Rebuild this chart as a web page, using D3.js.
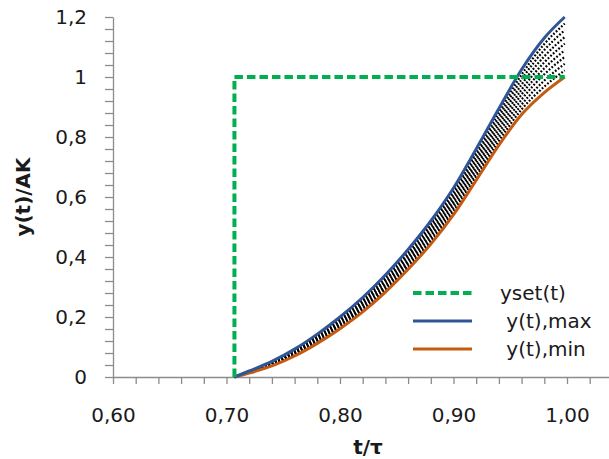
<!DOCTYPE html>
<html>
<head>
<meta charset="utf-8">
<script src="https://cdn.jsdelivr.net/npm/d3@7"></script>
<style>
  html, body { margin: 0; padding: 0; background: #fff; }
  svg { display: block; font-family: "DejaVu Sans", Verdana, sans-serif; }
</style>
</head>
<body>
<svg id="chart" width="609" height="459"></svg>
<script>
// Normalised time t/τ at which every response is sampled
const tGrid = [0.707, 0.72, 0.74, 0.76, 0.78, 0.80, 0.82, 0.84, 0.86, 0.88, 0.90, 0.92, 0.94, 0.96, 0.98, 0.998];

// Upper and lower bounding responses y(t)/AK
const yMax = [0, 0.020, 0.052, 0.093, 0.143, 0.200, 0.265, 0.340, 0.425, 0.520, 0.630, 0.760, 0.895, 1.025, 1.130, 1.200];
const yMin = [0, 0.013, 0.037, 0.070, 0.112, 0.161, 0.217, 0.283, 0.359, 0.443, 0.541, 0.656, 0.773, 0.875, 0.948, 1.000];

// Intermediate responses lying between the bounds (dotted)
const yMid = [
  [0, 0.014, 0.039, 0.073, 0.115, 0.165, 0.222, 0.289, 0.366, 0.452, 0.551, 0.668, 0.787, 0.892, 0.968, 1.022],
  [0, 0.015, 0.040, 0.075, 0.119, 0.170, 0.228, 0.296, 0.374, 0.460, 0.561, 0.679, 0.800, 0.908, 0.988, 1.044],
  [0, 0.015, 0.042, 0.078, 0.122, 0.174, 0.233, 0.302, 0.381, 0.469, 0.571, 0.691, 0.814, 0.925, 1.009, 1.067],
  [0, 0.016, 0.044, 0.080, 0.126, 0.178, 0.238, 0.308, 0.388, 0.477, 0.581, 0.702, 0.827, 0.942, 1.029, 1.089],
  [0, 0.017, 0.045, 0.083, 0.129, 0.183, 0.244, 0.315, 0.396, 0.486, 0.590, 0.714, 0.841, 0.958, 1.049, 1.111],
  [0, 0.018, 0.047, 0.085, 0.133, 0.187, 0.249, 0.321, 0.403, 0.494, 0.600, 0.725, 0.854, 0.975, 1.069, 1.133],
  [0, 0.018, 0.049, 0.088, 0.136, 0.191, 0.254, 0.327, 0.410, 0.503, 0.610, 0.737, 0.868, 0.992, 1.090, 1.156],
  [0, 0.019, 0.050, 0.090, 0.140, 0.196, 0.260, 0.334, 0.418, 0.511, 0.620, 0.748, 0.881, 1.008, 1.110, 1.178]
];

// Set-point step: 0 before t/τ = 0.707, 1 afterwards
const ysetT = [0.707, 0.707, 0.998];
const ysetV = [0, 1, 1];

// Axis ticks and labels
const xTicks = [0.60, 0.62, 0.64, 0.66, 0.68, 0.70, 0.72, 0.74, 0.76, 0.78, 0.80, 0.82, 0.84, 0.86, 0.88, 0.90, 0.92, 0.94, 0.96, 0.98, 1.00, 1.02];
const xTickLabels = ["0,60", "0,70", "0,80", "0,90", "1,00"];
const yTicks = [0, 0.04, 0.08, 0.12, 0.16, 0.2, 0.24, 0.28, 0.32, 0.36, 0.4, 0.44, 0.48, 0.52, 0.56, 0.6, 0.64, 0.68, 0.72, 0.76, 0.8, 0.84, 0.88, 0.92, 0.96, 1.0, 1.04, 1.08, 1.12, 1.16, 1.2];
const yTickLabels = ["0", "0,2", "0,4", "0,6", "0,8", "1", "1,2"];

const legendLabels = ["yset(t)", " y(t),max", " y(t),min"];

const colors = { set: "#00B050", max: "#2F5597", min: "#C55A11", mid: "#000000", axis: "#8c8c8c", text: "#1a1a1a" };

const svg = d3.select("#chart");

const x = d3.scaleLinear().domain([0.6, 1.04]).range([113, 612.4]);
const y = d3.scaleLinear().domain([0, 1.2]).range([377, 17]);

const isMajorX = v => Math.abs(v * 10 - Math.round(v * 10)) < 1e-6;
const isMajorY = v => Math.abs(v * 5 - Math.round(v * 5)) < 1e-6;

// X axis
const xAxis = d3.axisBottom(x)
  .tickValues(xTicks)
  .tickSize(7)
  .tickSizeOuter(0)
  .tickPadding(24)
  .tickFormat(v => isMajorX(v) ? xTickLabels[Math.round((v - 0.6) * 10)] : "");

const gx = svg.append("g").attr("transform", `translate(0,${y(0)})`).call(xAxis);

// Y axis
const yAxis = d3.axisLeft(y)
  .tickValues(yTicks)
  .tickSize(8)
  .tickSizeOuter(0)
  .tickPadding(18)
  .tickFormat(v => isMajorY(v) ? yTickLabels[Math.round(v * 5)] : "");

const gy = svg.append("g").attr("transform", `translate(${x(0.6)},0)`).call(yAxis);

[gx, gy].forEach(g => {
  g.select(".domain").attr("stroke", colors.axis).attr("stroke-width", 1.3);
  g.selectAll(".tick line").attr("stroke", colors.axis).attr("stroke-width", 1.3);
  g.selectAll(".tick text")
    .attr("fill", colors.text)
    .style("font-family", "'DejaVu Sans', Verdana, sans-serif")
    .style("font-size", "20px");
});
gx.selectAll(".tick text").attr("dy", "0.71em");

// Axis titles
svg.append("text")
  .attr("x", 368).attr("y", 454)
  .attr("text-anchor", "middle")
  .attr("fill", colors.text)
  .style("font-size", "20px").style("font-weight", "bold")
  .text("t/τ");

svg.append("text")
  .attr("transform", "translate(30,197) rotate(-90)")
  .attr("text-anchor", "middle")
  .attr("fill", colors.text)
  .style("font-size", "20px").style("font-weight", "bold")
  .text("y(t)/AK");

// Curves
const line = d3.line()
  .x(d => x(d[0]))
  .y(d => y(d[1]))
  .curve(d3.curveMonotoneX);

const plot = svg.append("g");

yMid.forEach(series => {
  plot.append("path")
    .datum(tGrid.map((t, i) => [t, series[i]]))
    .attr("d", line)
    .attr("fill", "none")
    .attr("stroke", colors.mid)
    .attr("stroke-width", 2.2)
    .attr("stroke-dasharray", "1.8,1.8");
});

plot.append("path")
  .datum(tGrid.map((t, i) => [t, yMin[i]]))
  .attr("d", line)
  .attr("fill", "none")
  .attr("stroke", colors.min)
  .attr("stroke-width", 3);

plot.append("path")
  .datum(tGrid.map((t, i) => [t, yMax[i]]))
  .attr("d", line)
  .attr("fill", "none")
  .attr("stroke", colors.max)
  .attr("stroke-width", 3);

// Set-point step (drawn with straight segments)
plot.append("path")
  .datum(ysetT.map((t, i) => [t, ysetV[i]]))
  .attr("d", d3.line().x(d => x(d[0])).y(d => y(d[1])))
  .attr("fill", "none")
  .attr("stroke", colors.set)
  .attr("stroke-width", 4)
  .attr("stroke-dasharray", "8.5,4");

// Legend
const legend = svg.append("g");
const legendStyles = [
  { color: colors.set, dash: "8.5,4", width: 4 },
  { color: colors.max, dash: null, width: 3 },
  { color: colors.min, dash: null, width: 3 }
];
legendLabels.forEach((label, i) => {
  const yy = 293 + i * 28;
  const st = legendStyles[i];
  legend.append("line")
    .attr("x1", 413).attr("x2", 472)
    .attr("y1", yy).attr("y2", yy)
    .attr("stroke", st.color)
    .attr("stroke-width", st.width)
    .attr("stroke-dasharray", st.dash);
  legend.append("text")
    .attr("x", 500).attr("y", yy)
    .attr("dy", "0.35em")
    .attr("fill", colors.text)
    .style("font-size", "20px")
    .style("white-space", "pre")
    .attr("xml:space", "preserve")
    .text(label);
});
</script>
</body>
</html>
